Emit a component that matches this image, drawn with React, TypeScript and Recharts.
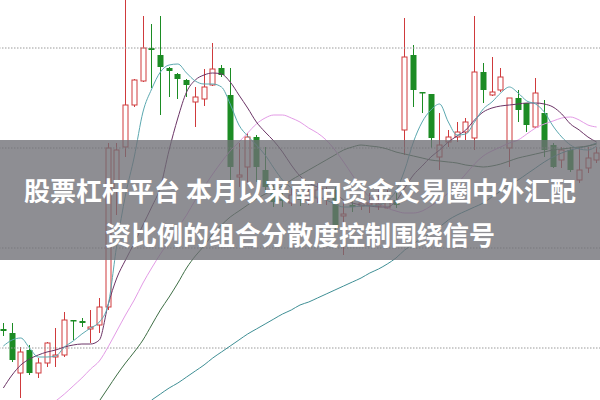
import React from 'react';
import {
  ComposedChart,
  Bar,
  Line,
  XAxis,
  YAxis,
  ReferenceLine,
} from 'recharts';

// daily candles (price units, 0..40 over the plot height)
const opens = [
  7.1, 6.7, 2.7, 5.0, 2.7, 3.7, 4.3, 4.5, 8.0, 7.9, 7.1, 7.5, 9.3, 21.0, 25.3, 29.5, 31.9, 35.2, 34.5, 33.2,
  32.6, 32.0, 29.8, 30.1, 31.5, 33.2, 30.5, 22.3, 23.3, 26.3, 23.0, 20.7, 20.1, 19.7, 20.8, 20.0, 20.2, 20.1,
  21.0, 18.4, 19.5, 19.4, 19.5, 19.4, 19.2, 20.0, 27.0, 34.5, 30.8, 30.6, 24.3, 25.8, 26.3, 26.8, 26.2, 32.8,
  30.5, 31.0, 25.2, 30.2, 29.7, 27.3, 28.7, 25.5, 24.0, 25.0, 22.0, 23.2, 24.0,
];
const highs = [
  7.7, 7.7, 5.3, 5.5, 4.2, 5.8, 7.2, 8.8, 8.0, 8.2, 9.0, 10.2, 25.7, 25.7, 40.5, 32.1, 38.4, 37.6, 38.4, 33.3,
  32.7, 32.1, 31.3, 33.1, 35.7, 33.5, 33.2, 25.7, 26.7, 26.5, 25.3, 21.5, 21.0, 21.2, 21.3, 21.5, 21.7, 21.3,
  21.3, 20.0, 20.2, 20.4, 20.7, 21.3, 21.0, 20.7, 38.2, 35.5, 30.8, 30.6, 28.7, 27.0, 27.8, 28.2, 38.4, 33.7,
  34.3, 33.2, 30.2, 31.0, 29.7, 32.2, 30.0, 25.7, 25.3, 25.3, 25.3, 25.3, 25.3,
];
const lows = [
  6.4, 3.8, 0.2, 2.5, 2.2, 3.3, 3.3, 4.3, 6.0, 7.3, 5.7, 6.7, 9.0, 18.5, 24.3, 29.3, 31.8, 31.2, 28.5, 30.3,
  30.1, 30.3, 27.3, 29.4, 31.4, 32.3, 20.8, 21.3, 21.7, 21.8, 20.8, 19.3, 19.3, 19.4, 19.4, 19.5, 19.7, 19.5,
  16.8, 14.5, 18.8, 19.0, 18.7, 19.0, 19.1, 19.2, 24.5, 29.3, 28.7, 25.2, 23.0, 25.3, 25.8, 26.0, 25.0, 29.7,
  30.4, 30.8, 23.3, 27.8, 26.8, 27.2, 24.3, 23.2, 23.2, 22.8, 21.7, 22.7, 23.7,
];
const closes = [
  6.9, 4.0, 4.8, 2.7, 3.7, 5.7, 4.5, 8.0, 7.9, 7.7, 7.3, 9.3, 25.2, 25.0, 29.5, 32.0, 35.2, 35.0, 33.3, 32.9,
  32.1, 31.5, 30.3, 31.3, 33.1, 32.5, 23.3, 22.5, 26.3, 23.3, 21.3, 19.8, 19.9, 20.5, 20.0, 20.5, 21.0, 20.4,
  17.2, 18.6, 19.3, 19.7, 19.7, 19.6, 20.0, 19.5, 34.3, 31.0, 30.7, 26.2, 25.5, 26.3, 26.8, 27.8, 32.8, 31.0,
  30.8, 32.3, 30.2, 29.0, 27.5, 30.7, 25.0, 23.3, 25.0, 23.0, 23.0, 24.2, 24.7,
];

// moving averages (null where the line is below the picture)
const ma5 = [
  5.4, 6.0, 6.2, 5.2, 4.3, 4.3, 4.4, 5.3, 5.9, 6.6, 7.2, 7.8, 9.5, 15.5, 20.5, 24.3, 28.8, 31.1, 32.8, 33.5,
  33.6, 32.7, 31.9, 31.6, 31.6, 31.3, 29.6, 27.5, 26.4, 25.5, 24.5, 23.2, 22.0, 21.2, 20.4, 20.3, 20.3, 20.0,
  19.6, 19.3, 19.3, 19.4, 19.4, 19.5, 19.9, 20.9, 23.0, 25.8, 27.8, 29.0, 29.6, 27.8, 26.5, 26.6, 27.8, 29.1,
  29.8, 30.7, 31.3, 30.7, 29.9, 29.6, 28.8, 27.4, 26.3, 25.5, 25.1, 25.0, 25.4,
];
const ma10 = [
  1.2, 2.5, 3.5, 4.1, 4.5, 4.8, 5.0, 5.3, 5.5, 5.6, 5.6, 6.0, 9.5, 12.2, 14.0, 15.7, 17.5, 19.3, 21.3, 25.0,
  28.2, 30.8, 32.0, 32.5, 32.7, 32.6, 31.8, 30.5, 29.2, 27.8, 26.8, 25.9, 24.8, 23.5, 22.4, 21.7, 21.3, 21.0,
  20.7, 20.0, 19.7, 19.5, 19.4, 19.3, 19.3, 19.9, 21.2, 22.5, 23.4, 24.3, 25.0, 25.8, 26.4, 27.0, 28.0, 28.8,
  29.2, 29.4, 29.5, 29.6, 29.7, 29.7, 29.6, 29.3, 28.6, 27.6, 27.0, 26.3, 25.8,
];
const ma20 = [
  null, null, null, null, null, null, -0.1, 0.6, 1.4, 2.2, 3.1, 3.9, 5.3, 6.9, 8.5, 10.0, 11.7, 13.2, 14.6, 15.9,
  17.2, 18.5, 20.0, 21.3, 22.6, 23.8, 24.9, 25.8, 26.7, 27.6, 28.2, 28.5, 28.5, 28.2, 27.8, 27.2, 26.7, 26.0,
  25.0, 23.8, 22.5, 21.2, 20.3, 19.7, 19.2, 18.9, 18.7, 18.7, 18.9, 19.4, 20.0, 20.7, 21.6, 22.6, 23.6, 24.4,
  24.9, 25.3, 25.7, 26.0, 26.6, 27.2, 27.6, 27.9, 28.2, 28.3, 28.0, 27.5, 27.3,
];
const ma30 = [
  null, null, null, null, null, null, null, null, null, null, null, -0.1, 1.2, 2.5, 3.7, 4.8, 6.0, 7.5, 9.0, 10.3,
  11.7, 13.2, 14.4, 15.4, 16.6, 17.5, 18.3, 18.9, 19.5, 20.1, 20.6, 21.0, 21.4, 22.0, 22.5, 23.0, 23.5, 24.0,
  24.5, 25.0, 25.3, 25.5, 25.4, 25.3, 25.1, 24.8, 24.6, 24.4, 24.2, 24.0, 23.9, 23.8, 23.7, 23.5, 23.4, 23.3,
  23.4, 23.6, 23.9, 24.2, 24.4, 24.6, 24.8, 25.0, 25.1, 25.2, 25.3, 25.4, 25.6,
];
const ma60 = [
  null, null, null, null, null, null, null, null, null, null, null, null, null, null, null, null, null, 0.0, 0.6, 1.2,
  1.7, 2.3, 2.9, 3.5, 4.2, 4.8, 5.4, 6.0, 6.6, 7.1, 7.6, 8.1, 8.6, 9.0, 9.5, 9.8, 10.2, 10.6,
  11.0, 11.4, 11.8, 12.2, 12.7, 13.1, 13.6, 14.2, 15.0, 15.6, 16.2, 16.7, 17.3, 18.0, 18.5, 18.9, 19.3, 19.7,
  20.3, 20.9, 21.5, 22.0, 22.6, 23.2, 23.8, 24.3, 24.7, 25.0, 25.2, 25.4, 25.7,
];

const gridLevels = [35.2, 25.2, 15.2, 5.2];

const titleLines = ['股票杠杆平台 本月以来南向资金交易圈中外汇配', '资比例的组合分散度控制围绕信号'];

const UP = '#cf3a3c';
const DOWN = '#1c8c24';

const data = opens.map((o, i) => ({
  day: i + 1,
  open: o,
  high: highs[i],
  low: lows[i],
  close: closes[i],
  range: [lows[i], highs[i]],
  ma5: ma5[i],
  ma10: ma10[i],
  ma20: ma20[i],
  ma30: ma30[i],
  ma60: ma60[i],
}));

const Candle = (props: any) => {
  const { x, y, width, height, payload } = props;
  const { open, close, high, low } = payload;
  const top = Math.min(y, y + height);
  const h = Math.abs(height);
  const ppu = h / (high - low || 1);
  const cx = Math.round(x + width / 2) + 0.5;
  const bodyTop = top + (high - Math.max(open, close)) * ppu;
  const bodyBot = top + (high - Math.min(open, close)) * ppu;
  const bottom = top + h;
  const up = close >= open;
  const bh = Math.max(bodyBot - bodyTop, 1);

  if (up) {
    return (
      <g>
        <line x1={cx} x2={cx} y1={top} y2={bodyTop} stroke={UP} strokeWidth={1} />
        <line x1={cx} x2={cx} y1={bodyTop + bh} y2={bottom} stroke={UP} strokeWidth={1} />
        <rect x={cx - 2.5} y={bodyTop} width={5} height={bh} fill="#fff" stroke={UP} strokeWidth={1} />
      </g>
    );
  }
  return (
    <g>
      <line x1={cx} x2={cx} y1={top} y2={bottom} stroke={DOWN} strokeWidth={1} />
      <rect x={cx - 3} y={bodyTop} width={6} height={Math.max(bh, 1.5)} fill={DOWN} />
    </g>
  );
};

const lineProps = { type: 'monotone' as const, strokeWidth: 1, dot: false, activeDot: false, isAnimationActive: false };

export default function App() {
  return (
    <div style={{ position: 'absolute', left: 0, top: 0, width: 600, height: 400, overflow: 'hidden', background: '#fff' }}>
      <div style={{ position: 'absolute', left: -1, top: 0 }}>
        <ComposedChart width={602} height={400} data={data} margin={{ top: 0, right: 0, bottom: 0, left: 0 }} barSize={6}>
          <XAxis dataKey="day" hide />
          <YAxis hide domain={[0, 40]} allowDataOverflow />
          {gridLevels.map((v) => (
            <ReferenceLine key={v} y={v} stroke="#9a9a9a" strokeDasharray="1.5 1.5" />
          ))}
          <Bar dataKey="range" shape={<Candle />} isAnimationActive={false} />
          <Line dataKey="ma60" stroke="#3f8f95" {...lineProps} />
          <Line dataKey="ma30" stroke="#3e6e45" {...lineProps} />
          <Line dataKey="ma20" stroke="#e39be6" {...lineProps} />
          <Line dataKey="ma10" stroke="#6b3466" {...lineProps} />
          <Line dataKey="ma5" stroke="#5ba8b0" {...lineProps} />
        </ComposedChart>
      </div>
      <div
        style={{
          position: 'absolute',
          left: 0,
          top: 140,
          width: 600,
          height: 120,
          background: 'rgba(110,110,116,0.78)',
        }}
      />
      <div
        style={{
          position: 'absolute',
          left: 0,
          top: 168,
          width: 600,
          textAlign: 'center',
          color: '#fff',
          fontFamily: '"Noto Sans CJK SC", "Noto Sans", sans-serif',
          fontWeight: 700,
          fontSize: 26,
          lineHeight: '44px',
          whiteSpace: 'nowrap',
        }}
      >
        {titleLines.map((t) => (
          <div key={t}>{t}</div>
        ))}
      </div>
    </div>
  );
}
